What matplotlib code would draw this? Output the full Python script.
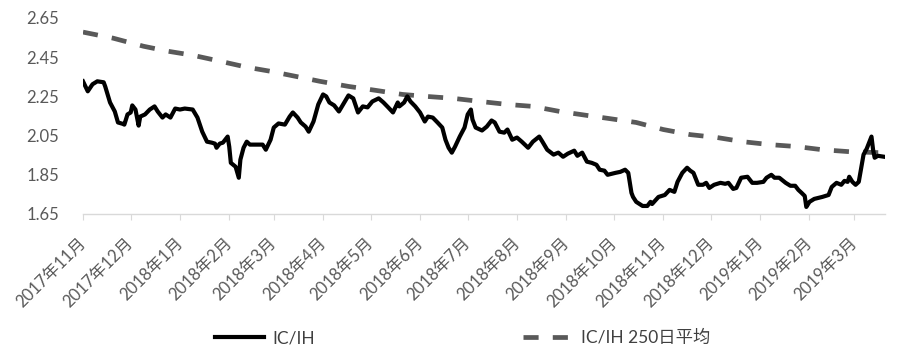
import pandas as pd
import numpy as np
import matplotlib
matplotlib.use("Agg")
import matplotlib.pyplot as plt
import matplotlib.dates as mdates

plt.rcParams['font.family'] = ['Lato', 'Noto Sans CJK SC', 'DejaVu Sans']

start = pd.Timestamp('2017-11-01')

# IC/IH ratio, days counted from 2017-11-01
ratio_days = [0, 3, 6, 9, 13, 14, 17, 20, 22, 25, 26, 28, 30, 31, 33, 35, 36, 39, 42, 45,
              47, 50, 52, 55, 58, 61, 64, 69, 72, 75, 78, 81, 83, 84, 86, 88, 91, 92, 93, 96,
              98, 99, 101, 103, 105, 109, 113, 115, 118, 120, 123, 127, 130, 132, 135, 137, 140, 142, 145, 148,
              151, 153, 155, 158, 161, 164, 167, 170, 173, 176, 179, 182, 186, 189, 192, 195, 198, 199, 202, 204,
              206, 209, 212, 215, 217, 220, 223, 226, 228, 230, 232, 234, 237, 240, 242, 244, 245, 247, 251, 254,
              257, 259, 262, 265, 267, 270, 273, 276, 280, 283, 287, 289, 292, 296, 299, 302, 305, 309, 311, 314,
              317, 320, 323, 325, 328, 330, 335, 338, 341, 343, 345, 346, 348, 352, 355, 357, 358, 362, 366, 369,
              372, 374, 377, 380, 382, 384, 387, 390, 392, 394, 397, 401, 404, 406, 409, 411, 414, 418, 421, 424,
              428, 430, 433, 435, 438, 442, 445, 448, 450, 452, 454, 455, 457, 460, 465, 469, 471, 474, 477, 479,
              481, 482, 484, 486, 488, 491, 493, 496, 497, 498, 500, 504]
ratio = [2.327, 2.276, 2.312, 2.327, 2.322, 2.300, 2.219, 2.173, 2.117, 2.110, 2.106, 2.158, 2.168, 2.204, 2.183, 2.101, 2.147, 2.158, 2.183, 2.199,
         2.173, 2.142, 2.158, 2.142, 2.188, 2.183, 2.188, 2.183, 2.142, 2.070, 2.019, 2.014, 2.009, 1.988, 2.009, 2.014, 2.045, 1.993, 1.911, 1.891,
         1.835, 1.927, 1.988, 2.019, 2.004, 2.004, 2.004, 1.978, 2.029, 2.091, 2.112, 2.106, 2.147, 2.168, 2.142, 2.117, 2.096, 2.070, 2.122, 2.209,
         2.260, 2.250, 2.219, 2.204, 2.173, 2.214, 2.255, 2.240, 2.168, 2.199, 2.194, 2.224, 2.240, 2.219, 2.194, 2.168, 2.219, 2.199, 2.219, 2.250,
         2.224, 2.199, 2.168, 2.122, 2.147, 2.142, 2.117, 2.091, 2.029, 1.988, 1.963, 1.993, 2.045, 2.091, 2.158, 2.183, 2.132, 2.091, 2.076, 2.096,
         2.127, 2.117, 2.070, 2.065, 2.081, 2.029, 2.040, 2.019, 1.988, 2.019, 2.045, 2.019, 1.978, 1.953, 1.963, 1.942, 1.958, 1.973, 1.947, 1.963,
         1.917, 1.911, 1.901, 1.876, 1.871, 1.850, 1.860, 1.865, 1.876, 1.860, 1.758, 1.737, 1.712, 1.691, 1.691, 1.712, 1.701, 1.737, 1.747, 1.773,
         1.763, 1.814, 1.860, 1.886, 1.871, 1.860, 1.799, 1.799, 1.809, 1.783, 1.799, 1.809, 1.804, 1.809, 1.778, 1.783, 1.835, 1.840, 1.809, 1.809,
         1.814, 1.835, 1.850, 1.835, 1.835, 1.809, 1.794, 1.794, 1.773, 1.758, 1.742, 1.686, 1.712, 1.727, 1.737, 1.747, 1.788, 1.809, 1.799, 1.819,
         1.814, 1.840, 1.814, 1.799, 1.814, 1.953, 1.983, 2.045, 1.978, 1.937, 1.947, 1.942]

# 250-day average
ma_days = [0, 19, 38, 53, 69, 86, 103, 118, 137, 149, 167, 184, 201, 216, 233, 250, 267, 283, 300, 317,
           331, 348, 365, 382, 399, 415, 432, 449, 465, 482, 501]
ma250 = [2.578, 2.547, 2.506, 2.481, 2.460, 2.430, 2.399, 2.378, 2.347, 2.327, 2.301, 2.281, 2.260, 2.250, 2.240, 2.224, 2.209, 2.199, 2.173, 2.153,
         2.137, 2.117, 2.081, 2.055, 2.040, 2.019, 2.004, 1.994, 1.978, 1.968, 1.963]

y_ticks = [1.65, 1.85, 2.05, 2.25, 2.45, 2.65]

ratio_dates = start + pd.to_timedelta(ratio_days, unit='D')
ma_dates = start + pd.to_timedelta(ma_days, unit='D')

fig = plt.figure(figsize=(9, 3.54), dpi=100)
ax = fig.add_axes([83 / 900, 1 - 214 / 354, (885 - 83) / 900, (214 - 18) / 354])

ax.plot(ma_dates, ma250, color='#595959', lw=3.4, dashes=(3.2, 3.0),
        solid_capstyle='butt', label='IC/IH 250日平均', zorder=2)
ax.plot(ratio_dates, ratio, color='black', lw=3.0, label='IC/IH', zorder=3)

ax.set_ylim(1.65, 2.65)
ax.set_yticks(y_ticks)
ax.set_yticklabels(['%.2f' % v for v in y_ticks])
ax.set_xlim(start, start + pd.Timedelta(days=504.5))

ax.xaxis.set_major_locator(mdates.MonthLocator())
ax.xaxis.set_major_formatter(plt.FuncFormatter(
    lambda x, pos: '%d年%d月' % (mdates.num2date(x).year, mdates.num2date(x).month)))

for s in ['top', 'right', 'left']:
    ax.spines[s].set_visible(False)
ax.spines['bottom'].set_color('#d9d9d9')
ax.spines['bottom'].set_linewidth(1.0)

ax.tick_params(axis='y', length=0, pad=17, labelsize=12, labelcolor='#595959')
ax.tick_params(axis='x', length=4, color='#d9d9d9', pad=15, labelsize=12, labelcolor='#595959')
for lab in ax.get_xticklabels():
    lab.set_rotation(45)
    lab.set_ha('right')
    lab.set_va('center')
    lab.set_rotation_mode('anchor')

h, l = ax.get_legend_handles_labels()
leg = fig.legend([h[1], h[0]], [l[1], l[0]], loc='center', bbox_to_anchor=(0.514, 0.045),
                 ncol=2, frameon=False, fontsize=12.5, handlelength=2.8,
                 columnspacing=12, handletextpad=0.5)
for t in leg.get_texts():
    t.set_color('#404040')

fig.savefig('out.png', dpi=100, facecolor='white')
